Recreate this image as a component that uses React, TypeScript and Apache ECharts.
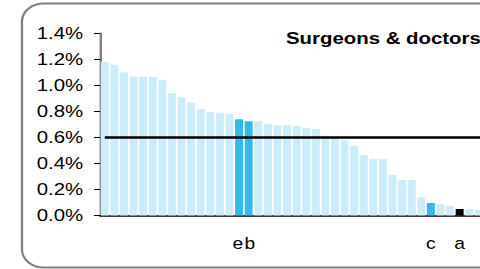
import React, { useEffect, useRef } from "react";
import * as echarts from "echarts";

const categories: string[] = [
  "", "", "", "", "", "", "", "", "", "", "", "", "", "", "e", "b", "", "", "", "", "",
  "", "", "", "", "", "", "", "", "", "", "", "", "", "c", "", "", "a", "", "", "",
];
const values: number[] = [
  1.18, 1.16, 1.1, 1.07, 1.07, 1.065, 1.04, 0.94, 0.91, 0.87, 0.82, 0.795, 0.79, 0.78,
  0.74, 0.725, 0.725, 0.705, 0.695, 0.695, 0.688, 0.673, 0.665, 0.615, 0.605, 0.58, 0.535,
  0.465, 0.435, 0.435, 0.312, 0.273, 0.273, 0.142, 0.096, 0.088, 0.073, 0.05, 0.05, 0.042,
  0.035,
];
const highlightBlue: string[] = ["e", "b", "c"];
const highlightBlack: string[] = ["a"];
const benchmark = 0.6;
const yTicks = { min: 0, max: 1.4, interval: 0.2 };
const title = "Surgeons & doctors";

// the reference is stretched horizontally; render narrower and scale in x
const SX = 1.2;

export default function App() {
  const ref = useRef<HTMLDivElement>(null);
  useEffect(() => {
    if (!ref.current) return;
    const chart = echarts.init(ref.current, null, { renderer: "svg" });
    const font = "Liberation Sans, Arial, sans-serif";
    const lbl = { fontSize: 16, color: "#000", fontFamily: font };
    chart.setOption({
      animation: false,
      textStyle: { fontFamily: font },
      graphic: [
        {
          type: "rect",
          shape: { x: 22 / SX, y: 3.5, width: 402, height: 264, r: 18 },
          style: { fill: "none", stroke: "#808080", lineWidth: 1.9 },
          z: 0,
        },
        {
          type: "text",
          left: 286 / SX,
          top: 30,
          style: { text: title, font: `bold 17px ${font}`, fill: "#000" },
        },
      ],
      grid: { left: 100 / SX, top: 33.5, bottom: 53.5, right: 22, containLabel: false },
      xAxis: {
        type: "category",
        data: categories,
        axisLine: { lineStyle: { color: "#000", width: 1.5 } },
        axisTick: { show: false },
        axisLabel: {
          interval: 0,
          margin: 20,
          ...lbl,
          formatter: (v: string) =>
            v === "e" ? "{l|e}" : v === "b" ? "{r|b}" : v === "" ? "" : "{n|" + v + "}",
          rich: {
            l: { ...lbl, padding: [0, 2, 0, 0] },
            r: { ...lbl, padding: [0, 0, 0, 2] },
            n: { ...lbl },
          },
        },
      },
      yAxis: {
        type: "value",
        min: yTicks.min,
        max: yTicks.max,
        interval: yTicks.interval,
        splitLine: { show: false },
        axisLine: { show: true, lineStyle: { color: "#808080", width: 2 } },
        axisTick: { show: true, length: 5, lineStyle: { color: "#000" } },
        axisLabel: {
          margin: 14,
          color: "#000",
          fontSize: 17,
          fontFamily: font,
          formatter: (v: number) => v.toFixed(1) + "%",
        },
      },
      series: [
        {
          type: "bar",
          barCategoryGap: "17%",
          data: values.map((v, i) => ({
            value: v,
            itemStyle: {
              color: highlightBlack.includes(categories[i])
                ? "#000000"
                : highlightBlue.includes(categories[i])
                ? "#36B9EA"
                : "#CCECF9",
            },
          })),
        },
        {
          type: "line",
          data: values.map(() => benchmark),
          symbol: "none",
          lineStyle: { color: "#000", width: 2.5 },
          z: 5,
        },
      ],
    });
    return () => chart.dispose();
  }, []);
  return (
    <div style={{ position: "fixed", left: 0, top: 0, width: 480, height: 269, overflow: "hidden", background: "#fff" }}>
      <div
        ref={ref}
        style={{ width: 520 / SX, height: 269, transform: `scaleX(${SX})`, transformOrigin: "0 0" }}
      />
    </div>
  );
}
